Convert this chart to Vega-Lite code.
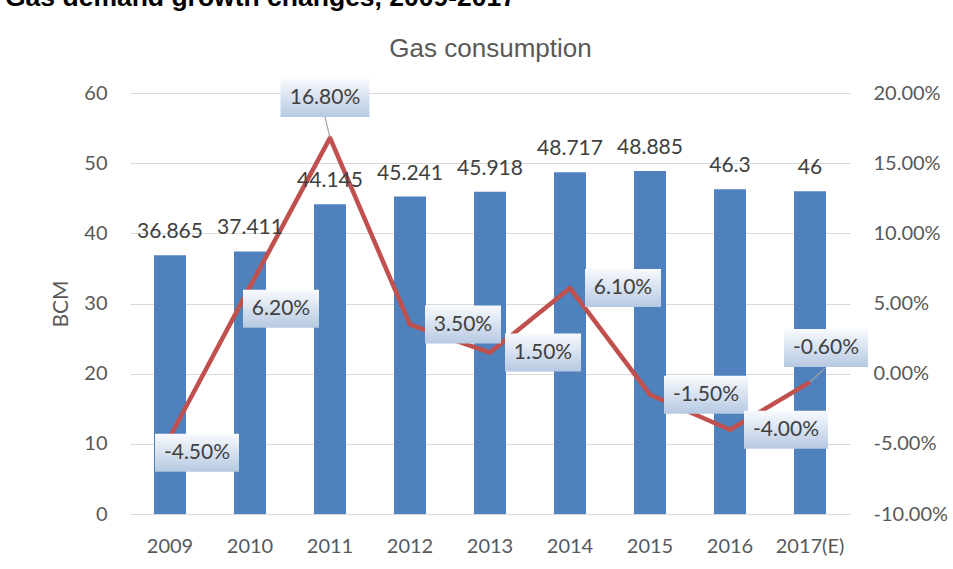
{
  "$schema": "https://vega.github.io/schema/vega-lite/v6.json",
  "width": 720,
  "height": 421,
  "autosize": {"type": "none"},
  "padding": {"left": 130, "top": 93, "right": 103, "bottom": 55},
  "background": "white",
  "config": {
    "locale": {"number": {"decimal": ".", "thousands": ",", "grouping": [3], "currency": ["$", ""], "minus": "-"}},
    "view": {"stroke": null},
    "axis": {"labelFont": "Lato", "labelFontSize": 20, "labelColor": "#595959", "titleFont": "Lato", "titleColor": "#595959", "titleFontWeight": "normal", "domain": false, "ticks": false, "tickSize": 0, "gridColor": "#D9D9D9", "gridWidth": 1}
  },
  "title": {"text": "Gas demand growth changes, 2009-2017", "anchor": "start", "frame": "group", "dx": -125, "dy": 19, "font": "Liberation Sans", "fontSize": 26.5, "fontWeight": "bold", "color": "#000000", "baseline": "alphabetic", "offset": 22},
  "data": {"values": [
    {"year": "2009", "consumption": 36.865, "growth": -0.045},
    {"year": "2010", "consumption": 37.411, "growth": 0.062},
    {"year": "2011", "consumption": 44.145, "growth": 0.168},
    {"year": "2012", "consumption": 45.241, "growth": 0.035},
    {"year": "2013", "consumption": 45.918, "growth": 0.015},
    {"year": "2014", "consumption": 48.717, "growth": 0.061},
    {"year": "2015", "consumption": 48.885, "growth": -0.015},
    {"year": "2016", "consumption": 46.3, "growth": -0.04},
    {"year": "2017(E)", "consumption": 46, "growth": -0.006}
  ]},
  "layer": [
    {
      "encoding": {
        "x": {"field": "year", "type": "nominal", "sort": null, "scale": {"paddingInner": 0.6, "paddingOuter": 0.3}, "axis": {"title": null, "labelAngle": 0, "labelPadding": 22, "grid": false}},
        "y": {"field": "consumption", "type": "quantitative", "scale": {"domain": [0, 60], "nice": false, "zero": true}, "axis": {"title": "BCM", "values": [0, 10, 20, 30, 40, 50, 60], "labelPadding": 23, "grid": true, "titleFontSize": 21, "titleBaseline": "alphabetic", "titleX": -63, "titleY": 210.5, "titleAngle": -90, "titleAlign": "center"}}
      },
      "layer": [
        {"mark": {"type": "bar", "color": "#4F81BD"}}
      ]
    },
    {
      "encoding": {
        "x": {"field": "year", "type": "nominal", "sort": null, "axis": {"orient": "top", "labels": false, "grid": false, "title": "Gas consumption", "titleFont": "Liberation Sans", "titleFontSize": 26, "titleColor": "#595959", "titleBaseline": "alphabetic", "titleY": -37, "titleX": 360, "titleAlign": "center"}},
        "y": {"field": "growth", "type": "quantitative", "scale": {"domain": [-0.1, 0.2], "nice": false, "zero": false}, "axis": {"orient": "right", "title": null, "values": [-0.1, -0.05, 0, 0.05, 0.1, 0.15, 0.2], "format": ".2%", "labelPadding": 23, "grid": false}}
      },
      "layer": [
        {"mark": {"type": "line", "color": "#C0504D", "strokeWidth": 4.5, "strokeJoin": "round"}}
      ]
    },
    {
      "encoding": {
        "x": {"field": "year", "type": "nominal", "sort": null, "axis": null},
        "y": {"field": "consumption", "type": "quantitative", "scale": {"domain": [0, 60], "nice": false, "zero": true}, "axis": null},
        "text": {"field": "consumption", "type": "quantitative", "format": "~g"}
      },
      "layer": [
        {"mark": {"type": "text", "font": "Lato", "fontSize": 21, "color": "#404040", "align": "center", "baseline": "alphabetic", "dy": -17}}
      ]
    },
    {
      "encoding": {
        "x": {"field": "year", "type": "nominal", "sort": null, "axis": null},
        "y": {"field": "growth", "type": "quantitative", "scale": {"domain": [-0.1, 0.2], "nice": false, "zero": false}, "axis": null},
        "text": {"field": "growth", "type": "quantitative", "format": ".2%"}
      },
      "layer": [
        {
          "transform": [{"filter": {"field": "year", "oneOf": ["2011"]}}],
          "mark": {"type": "rule", "color": "#A6A6A6", "strokeWidth": 1.2, "x2Offset": -5, "y2Offset": -21},
          "encoding": {"x": {"field": "year", "type": "nominal", "sort": null, "axis": null, "bandPosition": 0.5}, "x2": {"field": "year", "bandPosition": 0.5}, "y2": {"field": "growth"}}
        },
        {
          "transform": [{"filter": {"field": "year", "oneOf": ["2017(E)"]}}],
          "mark": {"type": "rule", "color": "#A6A6A6", "strokeWidth": 1.2, "x2Offset": 15, "y2Offset": -14},
          "encoding": {"x": {"field": "year", "type": "nominal", "sort": null, "axis": null, "bandPosition": 0.5}, "x2": {"field": "year", "bandPosition": 0.5}, "y2": {"field": "growth"}}
        },
        {
          "transform": [{"filter": {"field": "year", "oneOf": ["2012", "2013", "2014"]}}],
          "layer": [
            {"mark": {"type": "point", "shape": "M-1,-0.5L1,-0.5L1,0.5L-1,0.5Z", "size": 5776, "filled": true, "opacity": 1, "strokeWidth": 0, "fill": {"gradient": "linear", "x1": 0, "y1": 0, "x2": 0, "y2": 1, "stops": [{"offset": 0, "color": "#F8FAFD"}, {"offset": 1, "color": "#B6C9E2"}]}, "xOffset": 53, "yOffset": 0}},
            {"mark": {"type": "text", "font": "Lato", "fontSize": 21, "color": "#404040", "align": "center", "baseline": "middle", "xOffset": 53, "yOffset": 0}}
          ]
        },
        {
          "transform": [{"filter": {"field": "year", "oneOf": ["2015", "2016"]}}],
          "layer": [
            {"mark": {"type": "point", "shape": "M-1,-0.4524L1,-0.4524L1,0.4524L-1,0.4524Z", "size": 7056, "filled": true, "opacity": 1, "strokeWidth": 0, "fill": {"gradient": "linear", "x1": 0, "y1": 0, "x2": 0, "y2": 1, "stops": [{"offset": 0, "color": "#F8FAFD"}, {"offset": 1, "color": "#B6C9E2"}]}, "xOffset": 56, "yOffset": 0}},
            {"mark": {"type": "text", "font": "Lato", "fontSize": 21, "color": "#404040", "align": "center", "baseline": "middle", "xOffset": 56, "yOffset": 0}}
          ]
        },
        {
          "transform": [{"filter": {"field": "year", "oneOf": ["2009"]}}],
          "layer": [
            {"mark": {"type": "point", "shape": "M-1,-0.4524L1,-0.4524L1,0.4524L-1,0.4524Z", "size": 7056, "filled": true, "opacity": 1, "strokeWidth": 0, "fill": {"gradient": "linear", "x1": 0, "y1": 0, "x2": 0, "y2": 1, "stops": [{"offset": 0, "color": "#F8FAFD"}, {"offset": 1, "color": "#B6C9E2"}]}, "xOffset": 27, "yOffset": 16}},
            {"mark": {"type": "text", "font": "Lato", "fontSize": 21, "color": "#404040", "align": "center", "baseline": "middle", "xOffset": 27, "yOffset": 16}}
          ]
        },
        {
          "transform": [{"filter": {"field": "year", "oneOf": ["2010"]}}],
          "layer": [
            {"mark": {"type": "point", "shape": "M-1,-0.5L1,-0.5L1,0.5L-1,0.5Z", "size": 5776, "filled": true, "opacity": 1, "strokeWidth": 0, "fill": {"gradient": "linear", "x1": 0, "y1": 0, "x2": 0, "y2": 1, "stops": [{"offset": 0, "color": "#F8FAFD"}, {"offset": 1, "color": "#B6C9E2"}]}, "xOffset": 31, "yOffset": 22}},
            {"mark": {"type": "text", "font": "Lato", "fontSize": 21, "color": "#404040", "align": "center", "baseline": "middle", "xOffset": 31, "yOffset": 22}}
          ]
        },
        {
          "transform": [{"filter": {"field": "year", "oneOf": ["2011"]}}],
          "layer": [
            {"mark": {"type": "point", "shape": "M-1,-0.427L1,-0.427L1,0.427L-1,0.427Z", "size": 7921, "filled": true, "opacity": 1, "strokeWidth": 0, "fill": {"gradient": "linear", "x1": 0, "y1": 0, "x2": 0, "y2": 1, "stops": [{"offset": 0, "color": "#F8FAFD"}, {"offset": 1, "color": "#B6C9E2"}]}, "xOffset": -5, "yOffset": -40}},
            {"mark": {"type": "text", "font": "Lato", "fontSize": 21, "color": "#404040", "align": "center", "baseline": "middle", "xOffset": -5, "yOffset": -40}}
          ]
        },
        {
          "transform": [{"filter": {"field": "year", "oneOf": ["2017(E)"]}}],
          "layer": [
            {"mark": {"type": "point", "shape": "M-1,-0.4524L1,-0.4524L1,0.4524L-1,0.4524Z", "size": 7056, "filled": true, "opacity": 1, "strokeWidth": 0, "fill": {"gradient": "linear", "x1": 0, "y1": 0, "x2": 0, "y2": 1, "stops": [{"offset": 0, "color": "#F8FAFD"}, {"offset": 1, "color": "#B6C9E2"}]}, "xOffset": 16, "yOffset": -34}},
            {"mark": {"type": "text", "font": "Lato", "fontSize": 21, "color": "#404040", "align": "center", "baseline": "middle", "xOffset": 16, "yOffset": -34}}
          ]
        }
      ]
    }
  ],
  "resolve": {"scale": {"y": "independent"}, "axis": {"x": "independent", "y": "independent"}}
}
